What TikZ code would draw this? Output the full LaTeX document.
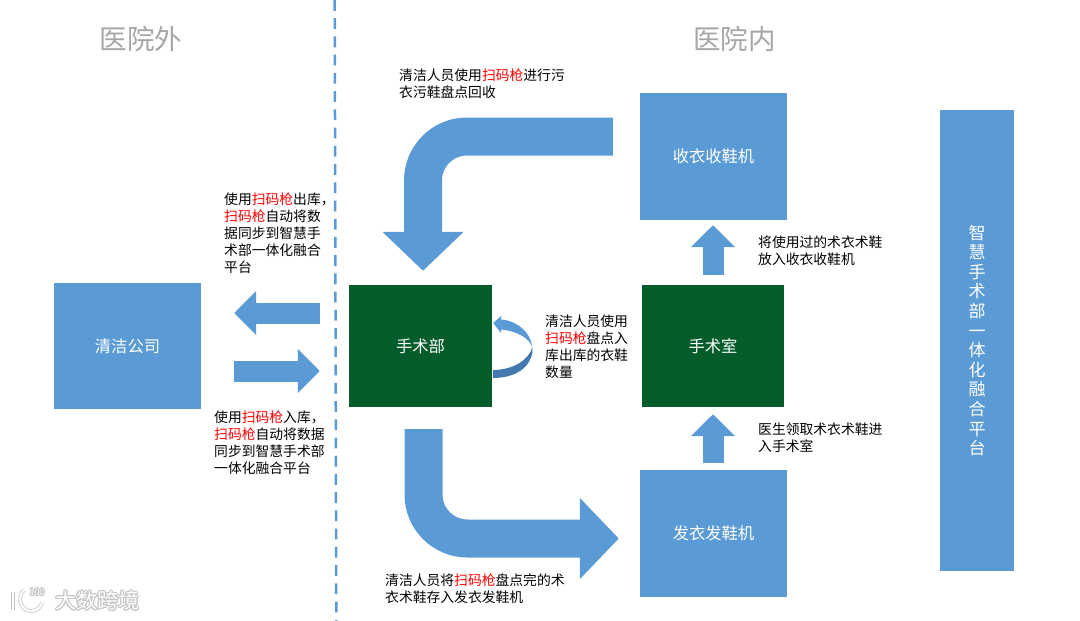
\documentclass[tikz,border=0pt]{standalone}
\usepackage{xcolor}
\usepackage{fontspec}
\usepackage{contour}
\usetikzlibrary{arrows.meta, calc}
\setmainfont{Noto Sans CJK SC}
\definecolor{hospblue}{HTML}{5B9BD5}
\definecolor{hospdark}{HTML}{4379AE}
\definecolor{hospgreen}{HTML}{035C2A}
\definecolor{hospgray}{HTML}{A6A6A6}
\newcommand{\scangun}{\textcolor{red}{扫码枪}}
\contourlength{0.8pt}

\begin{document}
\begin{tikzpicture}[x=1pt, y=-1pt,
    box/.style={fill=#1, inner sep=0pt, text=white, font=\fontsize{16.3}{20}\selectfont},
    side/.style={font=\fontsize{27.5}{32}\selectfont, text=hospgray},
    note/.style={anchor=north west, inner sep=0pt, align=left, font=\fontsize{13.8}{17}\selectfont},
    midarrow/.style={draw=hospblue, line width=21pt, -{Triangle[length=22pt, width=43pt, sharp]}},
    bentarrow/.style={draw=hospblue, line width=38pt, rounded corners=44pt, -{Triangle[length=39pt, width=79pt, sharp]}},
    logoline/.style={draw=white, line width=2.2pt, line cap=round, preaction={draw=gray!45, line width=3.8pt}},
]
    \useasboundingbox (0, 0) rectangle (1080, 621);

    % === titles ===
    \node[side] (outside) at (141, 39) {医院外};
    \node[side] (inside) at (734.5, 39) {医院内};

    % Dashed separator
    \coordinate (septop) at (334.7, 0);
    \coordinate (sepbot) at (336.3, 621);
    \draw[hospblue, line width=2.5pt, dash pattern=on 10.8pt off 7.43pt] (septop) -- (sepbot);

    % === boxes ===
    \node[box=hospblue, minimum width=147pt, minimum height=126pt] (company) at (127.5, 346) {清洁公司};
    \node[box=hospgreen, minimum width=143pt, minimum height=122pt] (dept) at (420.5, 346) {手术部};
    \node[box=hospgreen, minimum width=142pt, minimum height=122pt] (room) at (713, 346) {手术室};
    \node[box=hospblue, minimum width=147pt, minimum height=127pt] (collect) at (713.5, 156.5) {收衣收鞋机};
    \node[box=hospblue, minimum width=147pt, minimum height=127pt] (issue) at (713.5, 533.5) {发衣发鞋机};
    \node[box=hospblue, minimum width=74pt, minimum height=461pt, align=center,
          font=\fontsize{17}{19.6}\selectfont] (platform) at (977, 340.5)
        {智\\慧\\手\\术\\部\\一\\体\\化\\融\\合\\平\\台};

    % === arrows ===
    \draw[bentarrow, shorten <=27pt, shorten >=14pt] ([yshift=20pt]collect.west) -| ([xshift=2.5pt]dept.north);
    \draw[bentarrow, shorten <=22pt, shorten >=21pt] ([xshift=3pt]dept.south) |- ([yshift=-5pt]issue.west);
    \draw[midarrow, shorten <=29pt, shorten >=33pt] ([yshift=33pt]dept.west) -- ([yshift=33pt]company.east);
    \draw[midarrow, shorten <=33pt, shorten >=29pt] ([yshift=-25pt]company.east) -- ([yshift=-25pt]dept.west);
    \draw[midarrow, shorten <=10pt, shorten >=5pt] (room.north) -- ([xshift=-.5pt]collect.south);
    \draw[midarrow, shorten <=7pt, shorten >=7pt] ([xshift=-.5pt]issue.north) -- (room.south);

    % Loop beside the department box
    \coordinate (looptip) at ($(dept.east)+(1,-23)$);
    \coordinate (loopmid) at ($(dept.east)+(40,1)$);
    \fill[hospblue] (looptip) -- ++(8,-7) -- ++(0,3.5)
        .. controls (518, 321) and (531, 333) .. (loopmid)
        .. controls (529, 338) and (517, 331) .. (501, 329.5) -- (501, 333) -- cycle;
    \fill[hospdark] (loopmid) .. controls (530, 358) and (515, 370) .. (493, 370)
        -- (493, 378) .. controls (515, 378) and (530, 368) .. (532.5, 352) -- cycle;

    % === notes ===
    \node[note] (notecollect) at (399, 69) {清洁人员使用\scangun{}进行污\\衣污鞋盘点回收};
    \node[note] (noteout) at (224, 193) {使用\scangun{}出库，\\\scangun{}自动将数\\据同步到智慧手\\术部一体化融合\\平台};
    \node[note] (notein) at (214, 411) {使用\scangun{}入库，\\\scangun{}自动将数据\\同步到智慧手术部\\一体化融合平台};
    \node[note] (notecount) at (545, 315) {清洁人员使用\\\scangun{}盘点入\\库出库的衣鞋\\数量};
    \node[note] (noteused) at (758, 236) {将使用过的术衣术鞋\\放入收衣收鞋机};
    \node[note] (notetake) at (758, 423) {医生领取术衣术鞋进\\入手术室};
    \node[note] (notestore) at (385, 574) {清洁人员将\scangun{}盘点完的术\\衣术鞋存入发衣发鞋机};

    % Watermark
    \draw[logoline] (13, 592) -- (13, 610);
    \draw[logoline] (24, 590) .. controls (17, 596) and (20, 611) .. (31, 611) .. controls (37, 611) and (41, 607) .. (42, 602);
    \node[font=\fontsize{9}{9}\selectfont, text=white] (logonum) at (37, 592.5) {\contour{gray!45}{100}};
    \node[font=\fontsize{21}{24}\selectfont, text=white] (mark) at (97.5, 601) {\contour{gray!45}{大数跨境}};
\end{tikzpicture}
\end{document}
